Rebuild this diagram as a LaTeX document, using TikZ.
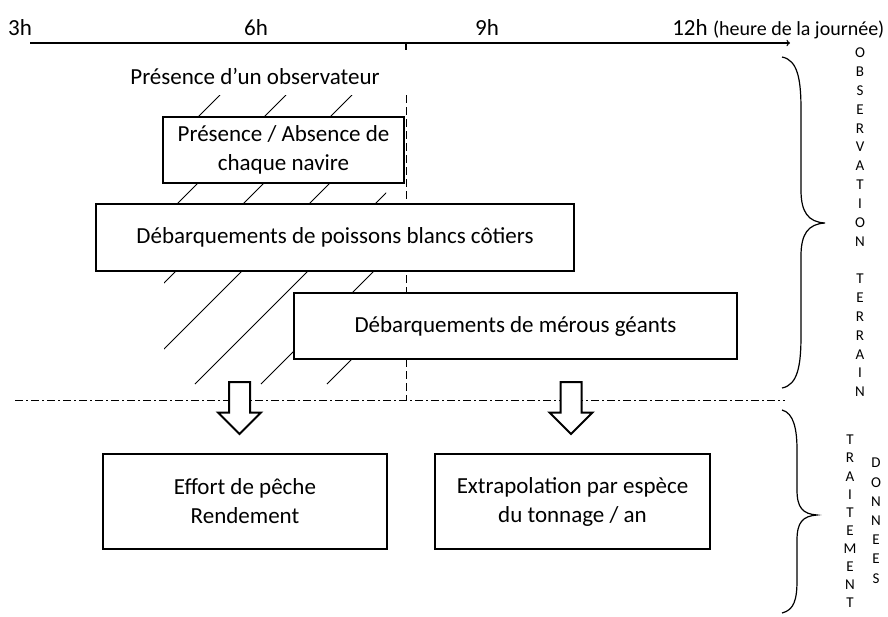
\documentclass[tikz,border=0pt]{standalone}
\usepackage{fontspec}
\setmainfont{Carlito}
\usetikzlibrary{shapes.arrows}

\begin{document}
\begin{tikzpicture}[
		x=1pt, y=-1pt,
		font=\fontsize{23}{29}\selectfont,
		box/.style={rectangle, draw, line width=2.2pt, fill=white, align=center, inner sep=0pt},
		fleche/.style={single arrow, draw, line width=2pt, fill=white, rotate=-90, minimum height=52pt, inner sep=9.5pt, single arrow head extend=11pt, single arrow tip angle=90, anchor=tail},
		lettre/.style={font=\fontsize{15}{18}\selectfont, inner sep=0pt},
		accolade/.style={line width=1.2pt},
		hachure/.style={line width=1pt}
	]
		\useasboundingbox (0,0) rectangle (888,616);

		% axe du temps
		\coordinate (t0) at (30,43);
		\coordinate (t1) at (790,43);
		\coordinate (midi) at (406,43);
		\coordinate (midibas) at (406,50);
		\draw[line width=1.3pt, ->] (t0) -- (t1);
		\draw[line width=1.2pt] (midi) -- (midibas);
		\node[inner sep=0pt] (h3) at (20,28) {3h};
		\node[inner sep=0pt] (h6) at (256,28) {6h};
		\node[inner sep=0pt] (h9) at (487,28) {9h};
		\node[inner sep=0pt] (h12) at (690,28) {12h};
		\node[inner sep=0pt, anchor=base west, font=\fontsize{20}{24}\selectfont] (legende) at ([xshift=5pt]h12.base east) {(heure de la journée)};

		% zone hachuree (observateur present)
		\begin{scope}
			\clip (164,95) rectangle (386,384);
			\foreach \c in {315,381,...,711}
				\draw[hachure] (\c-384,384) -- (\c-95,95);
		\end{scope}
		\node (observ) at (255,76) {Présence d’un observateur};

		% limites
		\coordinate (vhaut) at (406,95);
		\coordinate (vbas) at (406,400);
		\draw[line width=1pt, dash pattern=on 8pt off 4pt] (vhaut) -- (vbas);
		\coordinate (sep0) at (15,400);
		\coordinate (sep1) at (785,400);
		\draw[line width=1pt, dash pattern=on 8pt off 3pt on 2pt off 3pt] (sep0) -- (sep1);

		% observation terrain
		\node[box, minimum width=241pt, minimum height=66pt] (navire) at (283.5,150) {Présence / Absence de\\chaque navire};
		\node[box, minimum width=478pt, minimum height=67pt] (poissons) at (335,237.5) {Débarquements de poissons blancs côtiers};
		\node[box, minimum width=443pt, minimum height=66pt] (merous) at (515.5,326) {Débarquements de mérous géants};

		% traitement
		\node[fleche] (fl1) at (239.5,381) {};
		\node[fleche] (fl2) at (571,381) {};
		\node[box, minimum width=284pt, minimum height=95pt] (effort) at (245,501.5) {Effort de pêche\\Rendement};
		\node[box, minimum width=275pt, minimum height=95pt] (extrapol) at (572.5,501.5) {Extrapolation par espèce\\du tonnage / an};

		% accolades
		\draw[accolade] (782,57) .. controls (798,60) and (801,80) .. (801,110) -- (801,190)
			.. controls (801,212) and (808,222) .. (825,223)
			.. controls (808,224) and (801,234) .. (801,256) -- (801,335)
			.. controls (801,365) and (798,385) .. (782,388);
		\draw[accolade] (782,410) .. controls (794,413) and (797,430) .. (797,450) -- (797,490)
			.. controls (797,508) and (803,514) .. (817,515)
			.. controls (803,516) and (797,522) .. (797,540) -- (797,580)
			.. controls (797,600) and (794,610) .. (782,613);

		% textes verticaux
		\foreach \l [count=\i] in {O,B,S,E,R,V,A,T,I,O,N,{},T,E,R,R,A,I,N}
			\node[lettre] (obs-\i) at (860,{53+18.83*(\i-1)}) {\l};
		\foreach \l [count=\i] in {T,R,A,I,T,E,M,E,N,T}
			\node[lettre] (trait-\i) at (850,{440+18.1*(\i-1)}) {\l};
		\foreach \l [count=\i] in {D,O,N,N,E,E,S}
			\node[lettre] (don-\i) at (876,{463+19.2*(\i-1)}) {\l};
	\end{tikzpicture}
\end{document}
